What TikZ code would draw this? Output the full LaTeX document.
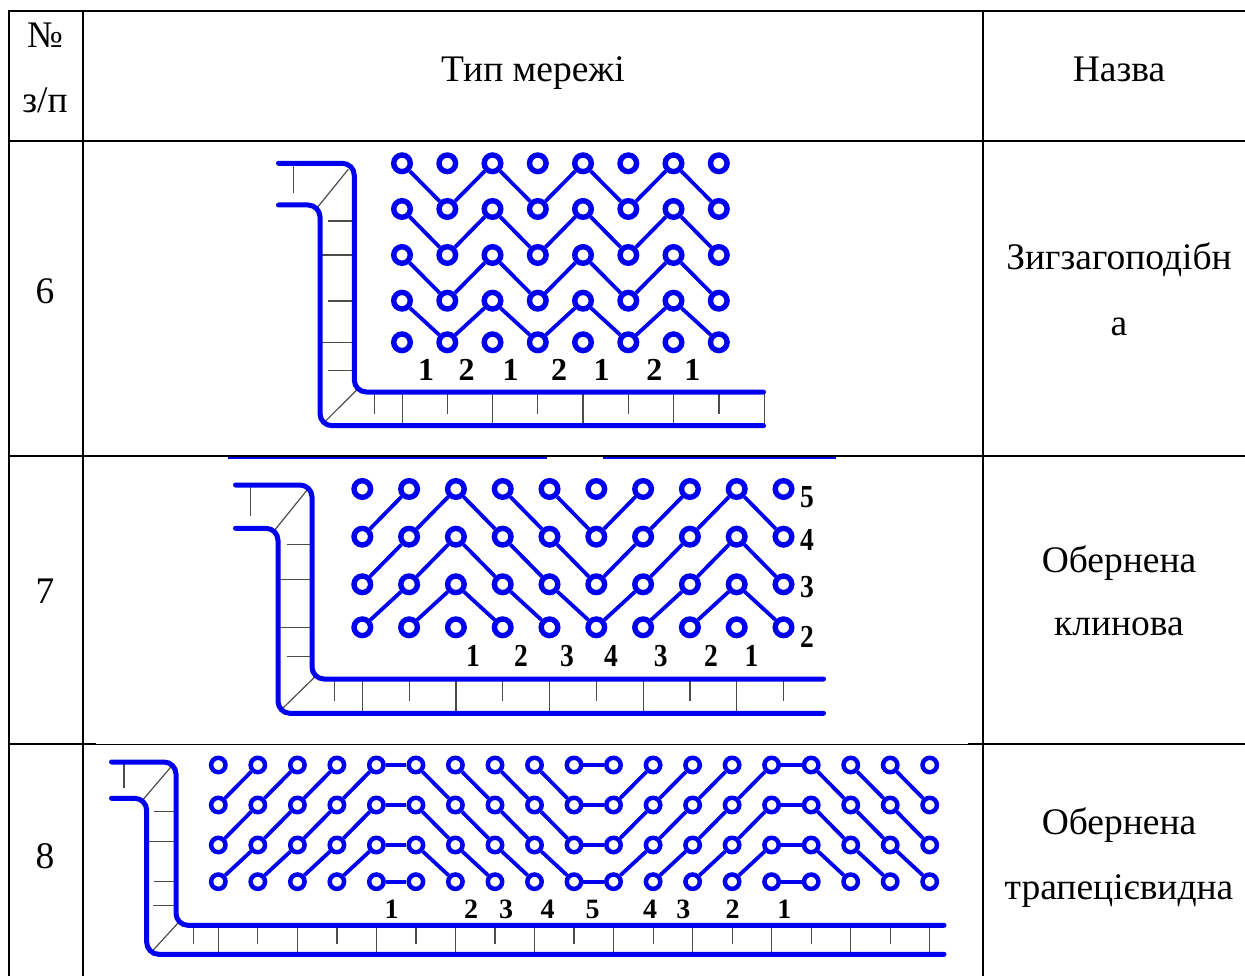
\documentclass[tikz,border=0pt]{standalone}
\usepackage{fontspec}
\usepackage{graphicx}
\setmainfont{Liberation Serif}
\definecolor{netblue}{RGB}{0,0,240}
\tikzset{
  x=1pt,y=-1pt,
  grid/.style={line width=2pt,black},
  thingrid/.style={line width=1pt,black},
  rail/.style={line width=5pt,netblue,line cap=round,rounded corners=12pt},
  hair/.style={line width=1.2pt,black!70},
  wire/.style={line width=3.8pt,netblue},
  stub/.style={line width=1.6pt,netblue},
  ringA/.style={circle,draw=netblue,line width=5.4pt,inner sep=0pt,minimum size=16.6pt},
  ringC/.style={circle,draw=netblue,line width=4.5pt,inner sep=0pt,minimum size=14.4pt},
  txt/.style={anchor=base,inner sep=0pt,font=\fontsize{37.5}{37.5}\selectfont},
  numA/.style={anchor=center,inner sep=0pt,font=\fontsize{32}{32}\selectfont\bfseries},
  numC/.style={anchor=center,inner sep=0pt,font=\fontsize{28}{28}\selectfont\bfseries}
}
\begin{document}
\begin{tikzpicture}
\useasboundingbox (0,0) rectangle (1245,976);
% ---------- table ----------
\draw[grid] (9,10.7) -- (1245,10.7);
\draw[grid] (9,140.7) -- (1245,140.7);
\draw[grid] (9,455.7) -- (1245,455.7);
\draw[grid] (9,744) -- (96,744);
\draw[thingrid] (96,744) -- (968,744);
\draw[grid] (968,744) -- (1245,744);
\draw[grid] (9,9.8) -- (9,976);
\draw[grid] (82.7,9.8) -- (82.7,976);
\draw[grid] (982.7,9.8) -- (982.7,976);
\draw[stub] (228,458) -- (547,458);
\draw[stub] (603,458) -- (836,458);
% ---------- texts ----------
\node[txt] (th1) at (45,48) {№};
\node[txt] (th2) at (45,113) {з/п};
\node[txt] (th3) at (533,81.5) {Тип мережі};
\node[txt] (th4) at (1119,81.5) {Назва};
\node[txt] (n6) at (45,303.5) {6};
\node[txt] (n7) at (45,603.5) {7};
\node[txt] (n8) at (45,868.5) {8};
\node[txt] (l6a) at (1119,270) {Зигзагоподібн};
\node[txt] (l6b) at (1119,335) {а};
\node[txt] (l7a) at (1119,572.5) {Обернена};
\node[txt] (l7b) at (1119,635.5) {клинова};
\node[txt] (l8a) at (1119,834.5) {Обернена};
\node[txt] (l8b) at (1119,899) {трапецієвидна};
% ---------- diagram 6 ----------
\foreach \x/\len in {374.3/414,402.7/425,447.5/414,492.3/425,537.7/414,583/425,628.3/414,673.7/425,719/414,764.3/425}
  \draw[hair] (\x,392) -- (\x,\len);
\foreach \y/\s in {221/328.3,255/320,301/328.3,342.3/320,370.7/328.3}
  \draw[hair] (\s,\y) -- (354.3,\y);
\draw[hair] (293.7,163.3) -- (293.7,193.3);
\draw[hair] (316.7,208.3) -- (348.3,169.3);
\draw[hair] (323.3,423.3) -- (356.7,390);
\draw[rail] (278.5,163.3) -- (354.3,163.3) -- (354.3,392) -- (763.5,392);
\draw[rail] (278.5,205) -- (320,205) -- (320,425.7) -- (763.5,425.7);
\foreach \r/\y in {1/163.3,2/209,3/255,4/300.7,5/342.3}
  \foreach \c/\x in {1/402,2/447.3,3/492.5,4/537.8,5/583,6/628.3,7/673.5,8/718.8}
    \node[ringA] (a\r-\c) at (\x,\y) {};
\foreach \r [evaluate=\r as \s using int(\r+1)] in {1,2,3,4}
  \draw[wire] (a\r-1) -- (a\s-2) -- (a\r-3) -- (a\s-4) -- (a\r-5) -- (a\s-6) -- (a\r-7) -- (a\s-8);
\foreach \i/\x/\t in {1/426/1,2/466.7/2,3/510.7/1,4/559/2,5/601.7/1,6/654.3/2,7/692.3/1}
  \node[numA] (da\i) at (\x,370) {\t};
% ---------- diagram 7 ----------
\foreach \x/\len in {334.2/700.7,362.3/713.3,409.1/700.7,455.9/713.3,502.7/700.7,549.5/713.3,596.3/700.7,643.1/713.3,689.9/700.7,736.7/713.3,783.5/700.7}
  \draw[hair] (\x,679) -- (\x,\len);
\foreach \y/\s in {544.7/287,579.7/278,627.7/278,656.7/287}
  \draw[hair] (\s,\y) -- (312,\y);
\draw[hair] (250.8,485) -- (250.8,516);
\draw[hair] (273.4,531.7) -- (307.7,489.3);
\draw[hair] (281,710) -- (316.8,675);
\draw[rail] (235.5,485) -- (312,485) -- (312,679) -- (823.5,679);
\draw[rail] (235.5,528.3) -- (278,528.3) -- (278,713.3) -- (823.5,713.3);
\foreach \r/\y in {1/489,2/536.7,3/584.3,4/627.3}
  \foreach \c/\x in {1/362.3,2/409.1,3/455.9,4/502.7,5/549.5,6/596.3,7/643.1,8/689.9,9/736.7,10/783.5}
    \node[ringA] (b\r-\c) at (\x,\y) {};
\draw[wire] (b1-2) -- (b2-1);
\draw[wire] (b3-1) -- (b2-2) -- (b1-3) -- (b2-4) -- (b3-5) -- (b4-6) -- (b3-7) -- (b2-8) -- (b1-9) -- (b2-10);
\draw[wire] (b4-1) -- (b3-2) -- (b2-3) -- (b3-4) -- (b4-5);
\draw[wire] (b4-2) -- (b3-3) -- (b4-4);
\draw[wire] (b1-4) -- (b2-5) -- (b3-6) -- (b2-7) -- (b1-8);
\draw[wire] (b1-5) -- (b2-6) -- (b1-7);
\draw[wire] (b4-7) -- (b3-8) -- (b2-9) -- (b3-10);
\draw[wire] (b4-8) -- (b3-9) -- (b4-10);
\foreach \i/\x/\t in {1/473/1,2/521/2,3/567/3,4/611/4,5/660.7/3,6/711/2,7/751.6/1}
  \node[numA] (db\i) at (\x,655.7) {\scalebox{.86}[1]{\t}};
\foreach \y/\t in {496.7/5,540/4,586.7/3,636.7/2}
  \node[numA] (ds\t) at (807,\y) {\scalebox{.86}[1]{\t}};
% ---------- diagram 8 ----------
\foreach \x/\len in {193.7/944,218.3/954.3,257.8/944,297.4/954.3,336.9/944,376.4/954.3,415.9/944,455.4/954.3,495/944,534.5/954.3,574/944,613.5/954.3,653.1/944,692.6/954.3,732.1/944,771.6/954.3,811.2/944,850.7/954.3,890.2/944,929.7/954.3}
  \draw[hair] (\x,925.3) -- (\x,\len);
\foreach \y/\s in {811.7/154,841.7/146.7,881.7/154,905.7/153}
  \draw[hair] (\s,\y) -- (176,\y);
\draw[hair] (124,762) -- (124,788.3);
\draw[hair] (142.7,800) -- (171.7,766);
\draw[hair] (151.7,951.7) -- (178.3,922.7);
\draw[rail] (111.5,762) -- (176,762) -- (176,925.3) -- (944,925.3);
\draw[rail] (111.5,798.3) -- (146.7,798.3) -- (146.7,954.3) -- (944,954.3);
\foreach \r/\y in {1/765,2/805,3/845,4/881.7}
  \foreach \c/\x in {1/218.3,2/257.8,3/297.4,4/336.9,5/376.4,6/415.9,7/455.4,8/495,9/534.5,10/574,11/613.5,12/653.1,13/692.6,14/732.1,15/771.6,16/811.2,17/850.7,18/890.2,19/929.7}
    \node[ringC] (c\r-\c) at (\x,\y) {};
\draw[wire] (c1-2) -- (c2-1);
\draw[wire] (c1-3) -- (c2-2) -- (c3-1);
\draw[wire] (c1-4) -- (c2-3) -- (c3-2) -- (c4-1);
\draw[wire] (c1-5) -- (c2-4) -- (c3-3) -- (c4-2);
\draw[wire] (c2-5) -- (c3-4) -- (c4-3);
\draw[wire] (c3-5) -- (c4-4);
\foreach \r in {1,2,3,4} {
  \draw[wire] (c\r-5) -- (c\r-6);
  \draw[wire] (c\r-10) -- (c\r-11);
  \draw[wire] (c\r-15) -- (c\r-16);
}
\draw[wire] (c1-6) -- (c2-7) -- (c3-8) -- (c4-9);
\draw[wire] (c2-6) -- (c3-7) -- (c4-8);
\draw[wire] (c3-6) -- (c4-7);
\draw[wire] (c1-7) -- (c2-8) -- (c3-9) -- (c4-10);
\draw[wire] (c1-8) -- (c2-9) -- (c3-10);
\draw[wire] (c1-9) -- (c2-10);
\draw[wire] (c2-11) -- (c1-12);
\draw[wire] (c3-11) -- (c2-12) -- (c1-13);
\draw[wire] (c4-11) -- (c3-12) -- (c2-13) -- (c1-14);
\draw[wire] (c4-12) -- (c3-13) -- (c2-14) -- (c1-15);
\draw[wire] (c4-13) -- (c3-14) -- (c2-15);
\draw[wire] (c4-14) -- (c3-15);
\draw[wire] (c1-16) -- (c2-17) -- (c3-18) -- (c4-19);
\draw[wire] (c2-16) -- (c3-17) -- (c4-18);
\draw[wire] (c3-16) -- (c4-17);
\draw[wire] (c1-17) -- (c2-18) -- (c3-19);
\draw[wire] (c1-18) -- (c2-19);
\foreach \i/\x/\t in {1/391.7/1,2/471/2,3/506/3,4/547.7/4,5/592.7/5,6/650/4,7/683.3/3,8/732.7/2,9/784.3/1}
  \node[numC] (dc\i) at (\x,909) {\t};
\end{tikzpicture}
\end{document}
